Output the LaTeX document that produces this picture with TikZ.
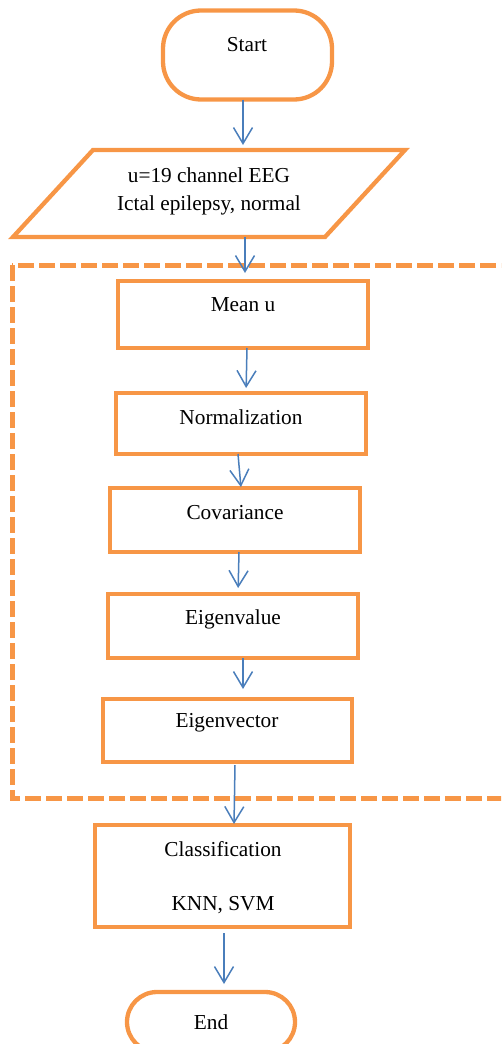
\documentclass[tikz,border=0pt]{standalone}
\usepackage{fontspec}
\setmainfont{Liberation Serif}
\usetikzlibrary{arrows.meta}
\definecolor{fcorange}{RGB}{247,150,70}
\definecolor{fcblue}{RGB}{74,126,187}
\begin{document}
\begin{tikzpicture}[x=1pt,y=-1pt,
  font=\fontsize{21.3}{28}\selectfont,
  box/.style={draw=fcorange, line width=4.3pt, inner sep=0pt, outer sep=0pt},
  ghost/.style={inner sep=0pt, outer sep=0pt},
  term/.style={box, rounded corners=38pt},
  dashbox/.style={draw=fcorange, line width=5pt, dash pattern=on 16pt off 5pt},
  flow/.style={draw=fcblue, line width=1.5pt, -{Straight Barb[length=16pt,width=19pt,line width=1.5pt]}},
  lbl/.style={inner sep=0pt, align=center}]
\useasboundingbox (0,0) rectangle (501,1044);
\clip (0,0) rectangle (501,1044);

% dashed group
\draw[dashbox] (12,265) rectangle (540,798);

% shapes
\node[term, minimum width=169pt, minimum height=89pt] (start) at (247.5,55) {};
\draw[draw=fcorange, line width=4.3pt, line join=miter] (93,150) -- (405,150) -- (325,237) -- (13,237) -- cycle;
\node[ghost, minimum width=392pt, minimum height=87pt] (param) at (209,193.5) {};
\node[box, minimum width=250pt, minimum height=67pt] (mean) at (243,314.5) {};
\node[box, minimum width=250pt, minimum height=61pt] (norm) at (241,423.5) {};
\node[box, minimum width=250pt, minimum height=64pt] (cov) at (235,520) {};
\node[box, minimum width=250pt, minimum height=64pt] (eigval) at (233,626) {};
\node[box, minimum width=249pt, minimum height=63pt] (eigvec) at (227.5,730.5) {};
\node[box, minimum width=255pt, minimum height=102pt] (class) at (222.5,876) {};
\node[box, rounded corners=30pt, minimum width=168pt, minimum height=60pt] (end) at (211,1022) {};

% texts
\node[lbl] (startt) at (247,45) {Start};
\node[lbl] (paramt) at (209,191) {u=19 channel EEG\\Ictal epilepsy, normal};
\node[lbl] (meant) at (243,305) {Mean u};
\node[lbl] (normt) at (241,417) {Normalization};
\node[lbl] (covt) at (235,513) {Covariance};
\node[lbl] (eigvalt) at (233,619) {Eigenvalue};
\node[lbl] (eigvect) at (227,723) {Eigenvector};
\node[lbl] (classt) at (223,878) {Classification\\[26pt]KNN, SVM};
\node[lbl] (endt) at (211,1022) {End};

% connectors
\draw[flow, shorten >=5pt] ([xshift=-4.5pt]start.south) -- ([xshift=34pt]param.north);
\draw[flow, shorten >=8pt] ([xshift=36pt]param.south) -- ([xshift=2pt]mean.north);
\draw[flow, shorten >=5pt] ([xshift=4pt]mean.south) -- ([xshift=5pt]norm.north);
\draw[flow, shorten >=1pt] ([xshift=-3pt]norm.south) -- ([xshift=6pt]cov.north);
\draw[flow, shorten >=6pt] ([xshift=4pt]cov.south) -- ([xshift=5pt]eigval.north);
\draw[flow, shorten >=10pt] ([xshift=10pt]eigval.south) -- ([xshift=15.5pt]eigvec.north);
\draw[flow, shorten >=1pt] ([xshift=7.5pt,yshift=-3pt]eigvec.south) -- ([xshift=11.5pt]class.north);
\draw[flow, shorten >=8pt] ([xshift=1.5pt,yshift=-6pt]class.south) -- ([xshift=13pt]end.north);
\end{tikzpicture}
\end{document}
